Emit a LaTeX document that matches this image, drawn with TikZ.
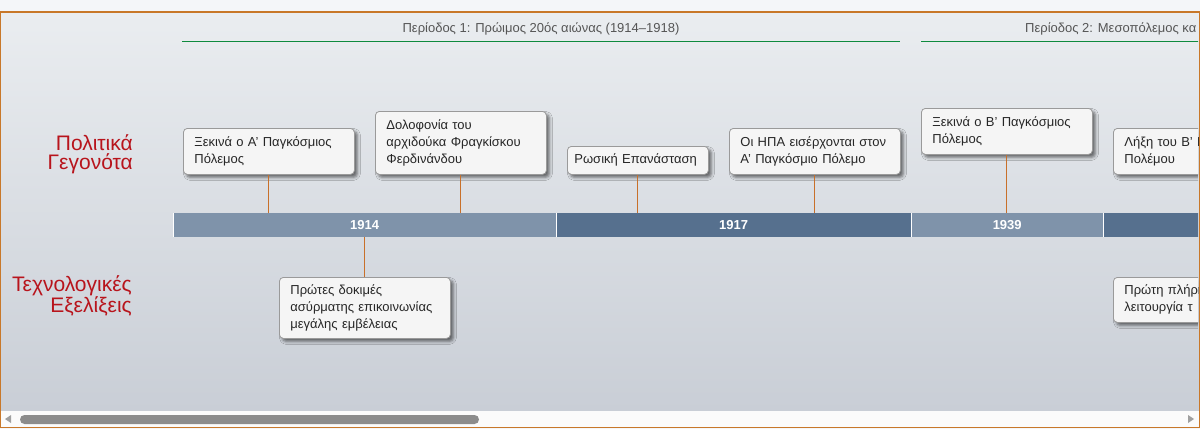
\documentclass[tikz,border=0pt]{standalone}
\usepackage{fontspec}
\setmainfont{Liberation Sans}
\usetikzlibrary{shadows.blur}
\definecolor{pagebg}{HTML}{F4F6F9}
\definecolor{bgtop}{HTML}{EAEDF0}
\definecolor{bgbot}{HTML}{C9CED6}
\definecolor{framecol}{HTML}{C8782A}
\definecolor{pgreen}{HTML}{0E8A3E}
\definecolor{segA}{HTML}{7F93AA}
\definecolor{segB}{HTML}{56708E}
\definecolor{conncol}{HTML}{C8702A}
\definecolor{rowred}{HTML}{B8141C}
\definecolor{boxfill}{HTML}{F5F5F5}
\definecolor{boxline}{HTML}{9A9A9A}
\definecolor{ptext}{HTML}{555555}
\definecolor{thumb}{HTML}{8C8C8C}
\definecolor{sbarrow}{HTML}{A0A0A0}
\begin{document}
\begin{tikzpicture}[x=1pt,y=-1pt,
  event/.style={draw=boxline, fill=boxfill, rounded corners=4pt, line width=0.8pt,
    anchor=north west, align=left, inner xsep=11pt, inner ysep=0pt,
    text width=149pt, text=black!85,
    font=\fontsize{13}{17}\selectfont,
    blur shadow={shadow xshift=3pt, shadow yshift=-3pt, shadow blur radius=3pt, shadow opacity=55}},
  seg/.style={anchor=north west, inner sep=0pt, minimum height=24pt,
    text=white, font=\bfseries\fontsize{13}{15}\selectfont},
  conn/.style={draw=conncol, line width=0.9pt},
  rowlabel/.style={anchor=east, align=right, text=rowred, inner sep=0pt,
    font=\fontsize{21}{19}\selectfont},
  period/.style={text=ptext, inner sep=0pt, font=\fontsize{13}{15}\selectfont},
  pline/.style={draw=pgreen, line width=0.9pt}
]
\useasboundingbox (0,0) rectangle (1200,429);
\fill[pagebg] (0,0) rectangle (1200,429);
\shade[top color=bgtop, bottom color=bgbot] (1,12) rectangle (1199,411);

\begin{scope}
\clip (1,12) rectangle (1198,411);
% periods
\node[period] (p1) at (541,29) {Περίοδος 1: Πρώιμος 20ός αιώνας (1914–1918)};
\draw[pline] (182,41) -- (900,41);
\node[period, anchor=west] (p2) at (1025,29) {Περίοδος 2: Μεσοπόλεμος κα};
\draw[pline] (921,41) -- (1200,41);

% row labels
\node[rowlabel] (pol) at (133,154) {Πολιτικά\\Γεγονότα};
\node[rowlabel] (tech) at (132,296) {Τεχνολογικές\\Εξελίξεις};

% timeline bar
\node[seg, fill=segA, minimum width=383pt] (seg1) at (173,213) {1914};
\node[seg, fill=segB, minimum width=355pt] (seg2) at (556,213) {1917};
\node[seg, fill=segA, minimum width=192pt] (seg3) at (911,213) {1939};
\node[seg, fill=segB, minimum width=200pt] (seg4) at (1103,213) {};
\draw[white, line width=0.8pt] (seg1.north west) -- (seg1.south west);
\draw[white, line width=0.8pt] (seg1.north east) -- (seg1.south east);
\draw[white, line width=0.8pt] (seg2.north east) -- (seg2.south east);
\draw[white, line width=0.8pt] (seg3.north east) -- (seg3.south east);

% events above
\node[event, minimum height=46pt] (e1) at (183,128) {Ξεκινά ο Α’ Παγκόσμιος\\Πόλεμος};
\node[event, minimum height=63pt] (e2) at (375,111) {Δολοφονία του\\αρχιδούκα Φραγκίσκου\\Φερδινάνδου};
\node[event, minimum height=28pt, text width=127pt, inner xsep=7pt] (e3) at (567,146) {Ρωσική Επανάσταση};
\node[event, minimum height=46pt] (e4) at (729,128) {Οι ΗΠΑ εισέρχονται στον\\Α’ Παγκόσμιο Πόλεμο};
\node[event, minimum height=46pt] (e5) at (921,108) {Ξεκινά ο Β’ Παγκόσμιος\\Πόλεμος};
\node[event, minimum height=46pt] (e6) at (1113,128) {Λήξη του Β’ Πα\\Πολέμου};

% events below
\node[event, minimum height=61pt] (t1) at (279,277) {Πρώτες δοκιμές\\ασύρματης επικοινωνίας\\μεγάλης εμβέλειας};
\node[event, minimum height=45pt] (t2) at (1113,277) {Πρώτη πλήρη\\λειτουργία τ};

% connectors
\draw[conn] (e1.south) -- (e1.south |- seg1.north);
\draw[conn] (e2.south) -- (e2.south |- seg1.north);
\draw[conn] (e3.south) -- (e3.south |- seg2.north);
\draw[conn] (e4.south) -- (e4.south |- seg2.north);
\draw[conn] (e5.south) -- (e5.south |- seg3.north);
\draw[conn] (t1.north) -- (t1.north |- seg1.south);
\end{scope}

% scrollbar
\fill[white!97!gray] (1,411) rectangle (1199,427);
\fill[thumb, rounded corners=4.5pt] (20,415) rectangle (479,424);
\fill[sbarrow] (5,419) -- (11,415) -- (11,423) -- cycle;
\fill[sbarrow] (1194,419) -- (1188,415) -- (1188,423) -- cycle;

% frame
\draw[framecol, line width=1.3pt] (0.8,12) rectangle (1199.2,427.6);
\end{tikzpicture}
\end{document}
